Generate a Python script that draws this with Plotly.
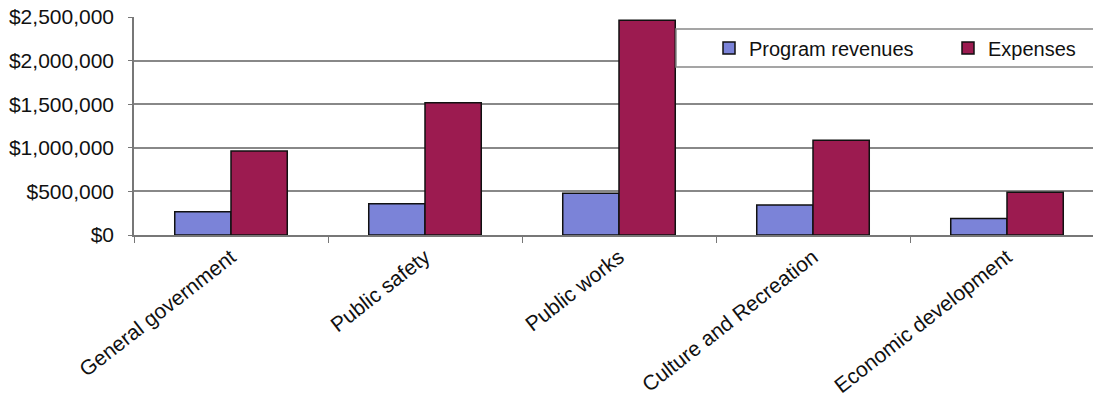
import plotly.graph_objects as go

categories = ["General government", "Public safety", "Public works",
              "Culture and Recreation", "Economic development"]
program_revenues = [266000, 357000, 479000, 345000, 190000]
expenses = [964000, 1516000, 2462000, 1086000, 490000]
y_ticks = [0, 500000, 1000000, 1500000, 2000000, 2500000]
y_tick_labels = ["$0", "$500,000", "$1,000,000", "$1,500,000", "$2,000,000", "$2,500,000"]

FONT = "Liberation Sans, Arial, sans-serif"
W, H = 1093, 403
L, T, B = 134, 17, 168
plot_w = W - L
plot_h = H - T - B

fig = go.Figure()
fig.add_bar(x=categories, y=program_revenues, name="Program revenues",
            marker=dict(color="#7b83d8", line=dict(color="#111111", width=1.5)))
fig.add_bar(x=categories, y=expenses, name="Expenses",
            marker=dict(color="#9c1b50", line=dict(color="#111111", width=1.5)))

def px_x(p):
    return (p - L) / plot_w

def px_y(p):
    return (H - B - p) / plot_h

fig.add_shape(type="rect", xref="paper", yref="paper",
              x0=px_x(676), x1=px_x(1100), y0=px_y(67), y1=px_y(29),
              fillcolor="white", line=dict(color="#888888", width=1.5), layer="above")

fig.update_layout(
    width=W, height=H,
    margin=dict(l=L, r=0, t=T, b=B, pad=0, autoexpand=False),
    paper_bgcolor="white", plot_bgcolor="white",
    barmode="group", bargap=0.42, bargroupgap=0,
    font=dict(family=FONT, size=20, color="#111111"),
    showlegend=True,
    legend=dict(orientation="h", x=px_x(709), y=px_y(48), xanchor="left", yanchor="middle",
                bgcolor="rgba(0,0,0,0)", borderwidth=0,
                font=dict(family=FONT, size=20),
                entrywidth=194, entrywidthmode="pixels", traceorder="normal"),
    xaxis=dict(range=[-0.5, 4.5 - 11/194], tickangle=-38, tickson="boundaries",
               ticks="outside", ticklen=6, tickcolor="#777777",
               showline=True, linecolor="#777777", linewidth=1.5,
               tickfont=dict(size=21), showgrid=False),
    yaxis=dict(range=[0, 2500000], tickvals=y_ticks, ticktext=y_tick_labels,
               showgrid=True, gridcolor="#888888", gridwidth=1.5,
               showline=True, linecolor="#777777", linewidth=1.5,
               ticks="outside", ticklen=4, tickcolor="#777777",
               ticklabelstandoff=10, zeroline=False,
               tickfont=dict(size=21)),
)

fig.write_html("out.html")
